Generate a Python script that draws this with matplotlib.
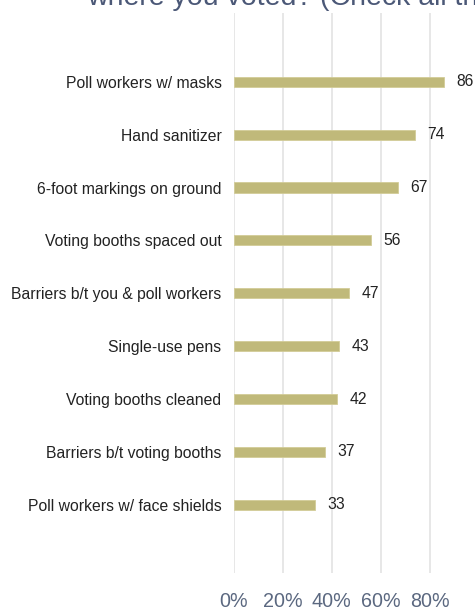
import numpy as np
import matplotlib.pyplot as plt

categories = ["Poll workers w/ masks", "Hand sanitizer", "6-foot markings on ground",
              "Voting booths spaced out", "Barriers b/t you & poll workers", "Single-use pens",
              "Voting booths cleaned", "Barriers b/t voting booths", "Poll workers w/ face shields"]
values = [86, 74, 67, 56, 47, 43, 42, 37, 33]
ticks = [0, 20, 40, 60, 80]
tick_labels = ["0%", "20%", "40%", "60%", "80%"]
title = "where you voted? (Check all that apply)"

W, H = 475, 610
fig = plt.figure(figsize=(W / 100, H / 100), dpi=100)
plt.rcParams['font.family'] = ['Liberation Sans', 'DejaVu Sans']

# axes in pixel coords: x=0 at 234px, 2.446 px per %, top 13px, bottom 573px
x0, scale = 234, 2.446
top, bot = 13, 573
ax = fig.add_axes([x0 / W, 1 - bot / H, 100 * scale / W, (bot - top) / H])

y = np.arange(len(categories))
ax.barh(y, values, height=0.19, color="#c0b97a", edgecolor="#d2cc98", linewidth=0.6, zorder=3)
for yi, v in zip(y, values):
    ax.annotate(str(v), (v, yi), xytext=(9, 0), textcoords="offset points",
                va="center", ha="left", fontsize=11.3, color="#222222")

ax.set_xlim(0, 100)
ax.set_ylim(8 + 1.29, -1.3)
ax.set_yticks(y)
ax.set_yticklabels(categories, fontsize=11.3, color="#222222")
ax.set_xticks(ticks)
ax.set_xticklabels(tick_labels, fontsize=14.2, color="#5b6880")
ax.tick_params(axis="y", length=0, pad=9)
ax.tick_params(axis="x", length=0, pad=14)
ax.grid(axis="x", color="#e3e3e3", linewidth=1.2, zorder=0)
for s in ax.spines.values():
    s.set_visible(False)

fig.text(87 / W, 1 - 5 / H, title, fontsize=20.5, color="#4b5877", ha="left", va="baseline")

fig.savefig("out.png", dpi=100)
